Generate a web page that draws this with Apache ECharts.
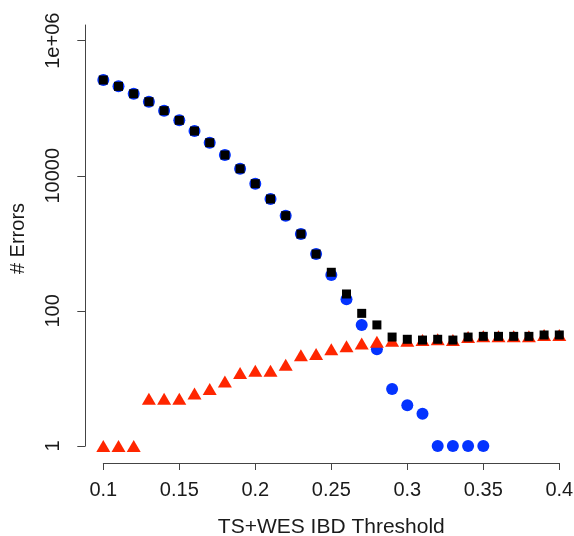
<!DOCTYPE html>
<html>
<head>
<meta charset="utf-8">
<script src="https://cdn.jsdelivr.net/npm/echarts@6/dist/echarts.min.js"></script>
<style>
html,body{margin:0;padding:0;background:#fff;}
#chart{width:574px;height:536px;}
</style>
</head>
<body>
<div id="chart"></div>
<script>
const thresholds = [0.10,0.11,0.12,0.13,0.14,0.15,0.16,0.17,0.18,0.19,0.20,0.21,0.22,0.23,0.24,0.25,0.26,0.27,0.28,0.29,0.30,0.31,0.32,0.33,0.34,0.35,0.36,0.37,0.38,0.39,0.40];
const blueErrors = [262000,211000,164000,125000,92000,66300,46000,30900,20300,12700,7640,4540,2570,1375,695,340,149,62,27,7,4,3,1,1,1,1,null,null,null,null,null];
const blackErrors = [262000,211000,164000,125000,92000,66300,46000,30900,20300,12700,7640,4540,2570,1375,695,373,178,92,62,41,38,37,38,37,41,42,42,42,42,44,44];
const redErrors = [1,1,1,5,5,5,6,7,9,12,13,13,16,22,23,27,30,33,35,36,36,37,38,37,41,42,42,42,42,44,44];
const xTicks = [0.1,0.15,0.2,0.25,0.3,0.35,0.4];
const yTicks = [1,100,10000,1000000];
const yTickLabels = ['1','100','10000','1e+06'];

function pairs(vals){ return thresholds.map((x,i)=>[x, vals[i]]).filter(p=>p[1]!==null); }

const chart = echarts.init(document.getElementById('chart'), null, {renderer:'canvas'});
const FONT = 'Liberation Sans, Arial, Helvetica, sans-serif';
const axisColor = '#444';
chart.setOption({
  animation:false,
  backgroundColor:'#fff',
  grid:{left:103.3, right:14.7, top:25, bottom:90, containLabel:false, outerBoundsMode:'none'},
  xAxis:{
    type:'value', min:0.1, max:0.4, interval:0.05, offset:17,
    name:'TS+WES IBD Threshold', nameLocation:'middle', nameGap:54,
    nameTextStyle:{fontFamily:FONT, fontSize:21, color:'#1a1a1a'},
    axisLine:{show:true, lineStyle:{color:axisColor, width:1}},
    axisTick:{show:true, length:7, lineStyle:{color:axisColor}},
    axisLabel:{fontFamily:FONT, fontSize:20, color:'#1a1a1a', margin:17,
      formatter:(v)=>{const t=xTicks.find(a=>Math.abs(a-v)<1e-9); return t===undefined?'':String(t);}},
    splitLine:{show:false}
  },
  yAxis:{
    type:'log', logBase:10, min:1, max:1708000, offset:18,
    name:'# Errors', nameLocation:'middle', nameGap:57, nameRotate:90,
    nameTextStyle:{fontFamily:FONT, fontSize:20, color:'#1a1a1a', padding:[0,6,0,0]},
    axisLine:{show:true, lineStyle:{color:axisColor, width:1}},
    axisTick:{show:true, length:8, lineStyle:{color:axisColor}, customValues:yTicks},
    axisLabel:{fontFamily:FONT, fontSize:20, color:'#1a1a1a', margin:22, rotate:90,
      customValues:yTicks,
      formatter:(v)=>{const i=yTicks.findIndex(t=>Math.abs(Math.log10(t)-Math.log10(v))<1e-6); return i<0?'':yTickLabels[i];}},
    splitLine:{show:false}
  },
  series:[
    {type:'scatter', name:'blue', data:pairs(blueErrors), symbol:'circle', symbolSize:12, clip:false,
      itemStyle:{color:'#0433FF', opacity:1}, z:2},
    {type:'scatter', name:'red', data:pairs(redErrors), symbol:'triangle', symbolSize:[14,12], clip:false,
      itemStyle:{color:'#FF2600', opacity:1}, z:3},
    {type:'scatter', name:'black', data:pairs(blackErrors), symbol:'rect', symbolSize:9, clip:false,
      itemStyle:{color:'#000', opacity:1}, z:4}
  ]
});
</script>
</body>
</html>
